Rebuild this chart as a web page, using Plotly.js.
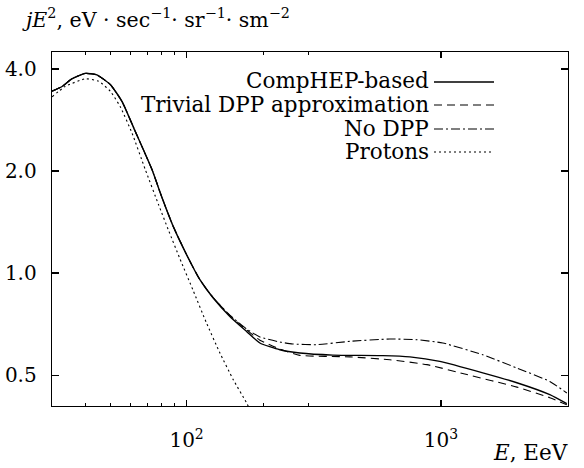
<!DOCTYPE html>
<html>
<head>
<meta charset="utf-8">
<script src="https://cdn.plot.ly/plotly-3.0.1.min.js"></script>
<style>
html,body{margin:0;padding:0;background:#fff;}
#chart{width:584px;height:468px;}
</style>
</head>
<body>
<div id="chart"></div>
<script>
// ---- data ----
var seriesNames = ["CompHEP-based", "Trivial DPP approximation", "No DPP", "Protons"];

var energyComp = [29.6, 32.4, 35.4, 40, 44.4, 50.1, 55.7, 62.8, 73.1, 79.8, 88.6, 100, 112.8, 127.2, 147.9, 172.1, 194.1, 232.6, 278.7, 375.7, 590.6, 754.3, 989, 1459, 1986, 2676, 3121];
var fluxComp   = [3.44, 3.55, 3.74, 3.88, 3.84, 3.60, 3.21, 2.62, 2.02, 1.68, 1.373, 1.133, 0.956, 0.844, 0.745, 0.673, 0.622, 0.594, 0.581, 0.573, 0.571, 0.566, 0.549, 0.508, 0.475, 0.438, 0.412];

var energyTrivial = [29.6, 32.4, 35.4, 40, 44.4, 50.1, 55.7, 62.8, 73.1, 79.8, 88.6, 100, 112.8, 127.2, 147.9, 172.1, 194.1, 232.6, 278.7, 438.3, 629.5, 880, 1264, 1987, 2676, 3121];
var fluxTrivial   = [3.44, 3.55, 3.74, 3.88, 3.84, 3.60, 3.21, 2.62, 2.02, 1.68, 1.373, 1.133, 0.956, 0.846, 0.750, 0.680, 0.634, 0.597, 0.572, 0.566, 0.555, 0.537, 0.502, 0.461, 0.429, 0.409];

var energyNoDPP = [29.6, 32.4, 35.4, 40, 44.4, 50.1, 55.7, 62.8, 73.1, 79.8, 88.6, 100, 112.8, 127.2, 147.9, 172.1, 194.1, 232.6, 261.6, 325.1, 438.3, 629.5, 803.6, 1016, 1459, 1986, 2676, 3121];
var fluxNoDPP   = [3.44, 3.55, 3.74, 3.88, 3.84, 3.60, 3.21, 2.62, 2.02, 1.68, 1.373, 1.133, 0.956, 0.846, 0.752, 0.684, 0.648, 0.626, 0.618, 0.615, 0.629, 0.639, 0.636, 0.622, 0.574, 0.525, 0.479, 0.443];

var energyProtons = [29.6, 33.3, 40.0, 45.1, 50.1, 54.8, 61.0, 68.8, 77.6, 85.0, 94.1, 106.2, 119.8, 135.2, 152.5, 172.1, 185];
var fluxProtons   = [3.31, 3.55, 3.74, 3.68, 3.44, 3.10, 2.59, 2.02, 1.591, 1.334, 1.103, 0.887, 0.712, 0.581, 0.485, 0.414, 0.37];

var xMajorTicks = [100, 1000];
var xMajorLabels = ["10<sup>2</sup>", "10<sup>3</sup>"];
var xMinorTicks = [40, 50, 60, 70, 80, 90, 200, 300];
var yTicks = [0.5, 1, 2, 4];
var yLabels = ["0.5", "1.0", "2.0", "4.0"];

// ---- styles ----
var dashes = ["solid", "8px,5px", "9px,3px,2px,3px", "2px,3px"];
var widths = [1.4, 1.1, 1.1, 1.1];
var fontFam = "DejaVu Serif, serif";
var ink = "#000";

var xs = [energyComp, energyTrivial, energyNoDPP, energyProtons];
var ys = [fluxComp, fluxTrivial, fluxNoDPP, fluxProtons];

var traces = [];
for (var i = 0; i < 4; i++) {
  traces.push({
    x: xs[i], y: ys[i], type: "scatter", mode: "lines", name: seriesNames[i],
    line: {color: ink, width: widths[i], dash: dashes[i], shape: "spline", smoothing: 0.5},
    showlegend: false, hoverinfo: "skip"
  });
}

// manual legend: text at left, sample line at right
var L = 52, R = 568, T = 52, B = 406;
function px(x){ return (x - L) / (R - L); }
function py(y){ return (B - y) / (B - T); }

var annotations = [];
var shapes = [];
var rowY = [81, 104, 128, 151];
for (var k = 0; k < 4; k++) {
  annotations.push({
    xref: "paper", yref: "paper", x: px(431), y: py(rowY[k]),
    xanchor: "right", yanchor: "middle", showarrow: false,
    text: seriesNames[k], font: {family: fontFam, size: 21.5, color: ink}
  });
  shapes.push({
    type: "line", xref: "paper", yref: "paper",
    x0: px(434), x1: px(494), y0: py(rowY[k] + 1), y1: py(rowY[k] + 1),
    line: {color: ink, width: widths[k], dash: dashes[k]}
  });
}
// y-axis title (top left)
annotations.push({
  xref: "paper", yref: "paper", x: px(20), y: py(18),
  xanchor: "left", yanchor: "middle", showarrow: false,
  text: "<i>jE</i><sup>2</sup>, eV · sec<sup>−1</sup>· sr<sup>−1</sup>· sm<sup>−2</sup>",
  font: {family: fontFam, size: 20.5, color: ink}
});
// x-axis title (bottom right)
annotations.push({
  xref: "paper", yref: "paper", x: px(570), y: py(452),
  xanchor: "right", yanchor: "middle", showarrow: false,
  text: "<i>E</i>, EeV",
  font: {family: fontFam, size: 21.5, color: ink}
});

var layout = {
  width: 584, height: 468,
  margin: {l: L, r: 584 - R, t: T, b: 468 - B, pad: 0},
  paper_bgcolor: "#fff", plot_bgcolor: "#fff",
  showlegend: false,
  xaxis: {
    type: "log", range: [1.471, 3.499],
    tickmode: "array", tickvals: xMajorTicks, ticktext: xMajorLabels,
    ticks: "inside", ticklen: 6, tickwidth: 1.2, tickcolor: ink,
    minor: {tickmode: "array", tickvals: xMinorTicks, ticks: "inside", ticklen: 3, tickwidth: 1, tickcolor: ink, showgrid: false},
    showline: true, linecolor: ink, linewidth: 1.3, mirror: "ticks",
    showgrid: false, zeroline: false,
    ticklabelstandoff: 16,
    tickfont: {family: fontFam, size: 20, color: ink}
  },
  yaxis: {
    type: "log", range: [-0.392, 0.652],
    tickmode: "array", tickvals: yTicks, ticktext: yLabels,
    ticks: "inside", ticklen: 7, tickwidth: 1.2, tickcolor: ink,
    showline: true, linecolor: ink, linewidth: 1.3, mirror: "ticks",
    showgrid: false, zeroline: false,
    ticklabelstandoff: 10,
    tickfont: {family: fontFam, size: 20, color: ink}
  },
  annotations: annotations,
  shapes: shapes
};

Plotly.newPlot("chart", traces, layout, {staticPlot: true, displayModeBar: false});
</script>
</body>
</html>
